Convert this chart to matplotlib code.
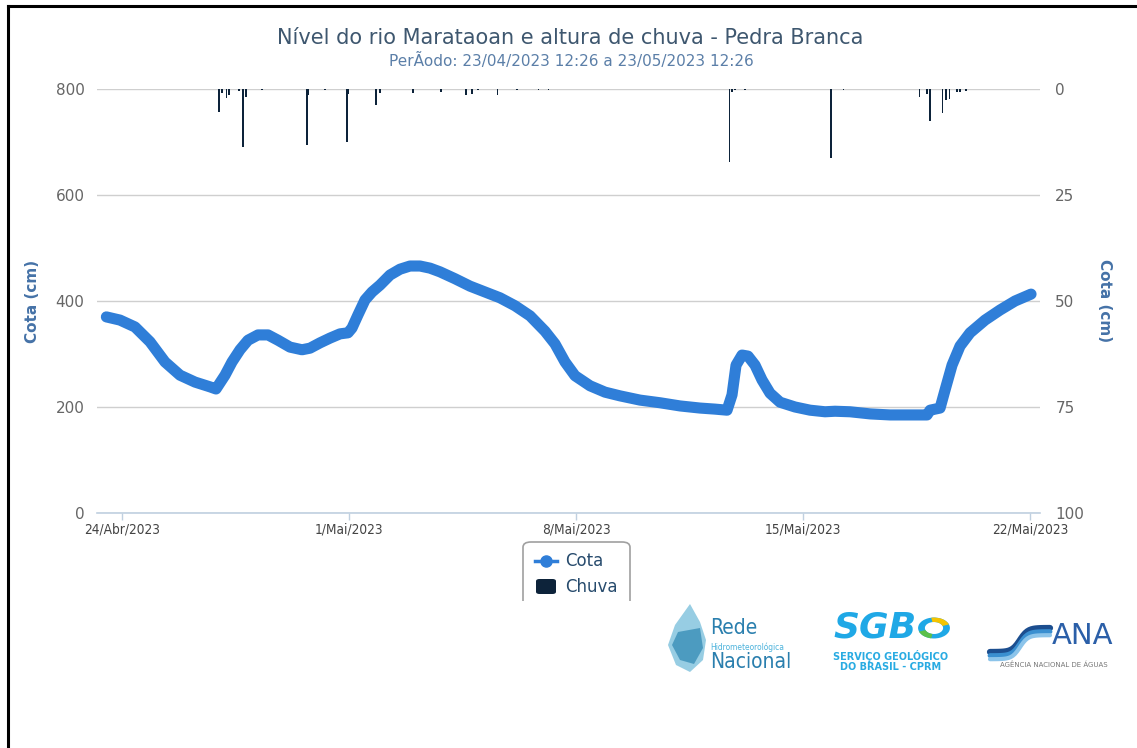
import matplotlib
matplotlib.use("Agg")
import matplotlib.pyplot as plt
import pandas as pd
import numpy as np
from matplotlib.patches import FancyBboxPatch, Rectangle, Polygon, Wedge
from matplotlib.lines import Line2D

# ---------------- data ----------------
cota_times = [
    "2023-04-23 12:26", "2023-04-23 22:30", "2023-04-24 09:37", "2023-04-24 20:43",
    "2023-04-25 07:49", "2023-04-25 18:56", "2023-04-26 06:02", "2023-04-26 17:08",
    "2023-04-26 21:34", "2023-04-27 04:14", "2023-04-27 09:25", "2023-04-27 15:20",
    "2023-04-27 21:15", "2023-04-28 04:39", "2023-04-28 12:03", "2023-04-28 19:27",
    "2023-04-29 04:19", "2023-04-29 13:12", "2023-04-29 19:08", "2023-04-30 02:31",
    "2023-04-30 09:56", "2023-04-30 17:20", "2023-04-30 23:15", "2023-05-01 02:12",
    "2023-05-01 06:39", "2023-05-01 11:50", "2023-05-01 17:01", "2023-05-01 22:56",
    "2023-05-02 06:20", "2023-05-02 13:44", "2023-05-02 21:08", "2023-05-03 04:32",
    "2023-05-03 11:56", "2023-05-03 19:20", "2023-05-04 06:26", "2023-05-04 17:33",
    "2023-05-05 04:38", "2023-05-05 15:44", "2023-05-06 02:50", "2023-05-06 13:57",
    "2023-05-07 01:02", "2023-05-07 08:27", "2023-05-07 15:50", "2023-05-07 23:14",
    "2023-05-08 10:21", "2023-05-08 21:27", "2023-05-09 08:33", "2023-05-09 23:21",
    "2023-05-10 14:10", "2023-05-11 04:57", "2023-05-11 19:45", "2023-05-12 06:52",
    "2023-05-12 15:45", "2023-05-12 19:26", "2023-05-12 22:24", "2023-05-13 02:50",
    "2023-05-13 07:16", "2023-05-13 12:27", "2023-05-13 17:38", "2023-05-13 23:34",
    "2023-05-14 06:58", "2023-05-14 18:04", "2023-05-15 05:10", "2023-05-15 16:16",
    "2023-05-15 23:40", "2023-05-16 10:47", "2023-05-17 01:34", "2023-05-17 16:22",
    "2023-05-18 07:11", "2023-05-18 19:45", "2023-05-18 21:59", "2023-05-19 05:23",
    "2023-05-19 09:04", "2023-05-19 14:15", "2023-05-19 20:10", "2023-05-20 03:35",
    "2023-05-20 14:40", "2023-05-21 01:46", "2023-05-21 12:52", "2023-05-22 00:43",
]
cota_values = [
    370, 364, 351, 323, 285, 260, 247, 238,
    234, 260, 285, 308, 326, 336, 336, 326,
    313, 308, 311, 321, 330, 338, 340, 349,
    374, 402, 417, 430, 449, 460, 466, 466,
    462, 455, 442, 428, 417, 406, 391, 372,
    343, 319, 285, 259, 240, 228, 221, 213,
    208, 202, 198, 196, 194, 223, 279, 298,
    296, 279, 251, 226, 209, 200, 194, 191,
    192, 191, 187, 185, 185, 185, 194, 198,
    232, 279, 315, 340, 364, 383, 400, 413,
]

chuva_times = [
    "2023-04-26 23:47", "2023-04-27 01:47", "2023-04-27 05:28", "2023-04-27 07:11",
    "2023-04-27 14:35", "2023-04-27 17:46", "2023-04-27 19:46", "2023-04-28 07:23",
    "2023-04-29 16:41", "2023-04-29 17:38", "2023-04-30 06:14", "2023-04-30 22:18",
    "2023-04-30 23:28", "2023-05-01 19:58", "2023-05-01 22:56", "2023-05-02 23:08",
    "2023-05-03 19:51", "2023-05-04 14:34", "2023-05-04 18:47", "2023-05-04 23:14",
    "2023-05-05 13:45", "2023-05-06 04:32", "2023-05-06 20:05", "2023-05-07 03:29",
    "2023-05-12 17:27", "2023-05-12 19:13", "2023-05-12 21:40", "2023-05-13 05:04",
    "2023-05-15 20:43", "2023-05-16 05:50", "2023-05-18 14:04", "2023-05-18 19:32",
    "2023-05-18 21:59", "2023-05-19 07:05", "2023-05-19 09:36", "2023-05-19 12:15",
    "2023-05-19 17:44", "2023-05-19 20:10", "2023-05-20 00:23",
]
chuva_values = [
    5.4, 1.0, 2.2, 1.5,
    0.5, 13.6, 1.8, 0.3,
    13.2, 1.5, 0.3, 12.6,
    1.2, 3.8, 1.0, 1.0,
    0.6, 1.4, 1.2, 0.3,
    1.4, 0.3, 0.3, 0.3,
    17.3, 0.8, 0.3, 0.3,
    16.3, 0.3, 2.0, 1.2,
    7.5, 5.7, 2.6, 2.4,
    0.8, 0.6, 0.5,
]

x_tick_dates = ["2023-04-24", "2023-05-01", "2023-05-08", "2023-05-15", "2023-05-22"]
x_tick_labels = ["24/Abr/2023", "1/Mai/2023", "8/Mai/2023", "15/Mai/2023", "22/Mai/2023"]
left_ticks = [0, 200, 400, 600, 800]
right_ticks = [0, 25, 50, 75, 100]

title = "Nível do rio Marataoan e altura de chuva - Pedra Branca"
subtitle = "PerÃodo: 23/04/2023 12:26 a 23/05/2023 12:26"

# ---------------- styling ----------------
W, H = 1137, 748
DPI = 100
COTA_COLOR = "#2f7ed8"
CHUVA_COLOR = "#0d233a"
GRID = "#cfcfcf"
AXIS_BLUE = "#c0d0e0"
TICK_TXT = "#666666"
AXTITLE = "#4572a7"

fig = plt.figure(figsize=(W / DPI, H / DPI), dpi=DPI)


def fx(x):
    return np.asarray(x) / W


def fy(y):
    return 1 - np.asarray(y) / H


L, R, T, B = 97, 1040, 89, 513
ax = fig.add_axes([fx(L), fy(B), (R - L) / W, (B - T) / H])
ax2 = ax.twinx()

ct = pd.to_datetime(cota_times)
rt = pd.to_datetime(chuva_times)

ax2.bar(rt, chuva_values, width=0.05, bottom=0, color=CHUVA_COLOR, zorder=2)
ax.plot(ct, cota_values, color=COTA_COLOR, lw=8.0, solid_capstyle="round",
        solid_joinstyle="round", zorder=3)

ax.set_ylim(0, 800)
ax2.set_ylim(100, 0)
x0 = pd.Timestamp("2023-04-23 05:30")
x1 = pd.Timestamp("2023-05-22 07:20")
ax.set_xlim(x0, x1)

ax.set_yticks(left_ticks)
ax2.set_yticks(right_ticks)
ax.set_xticks(pd.to_datetime(x_tick_dates))
ax.set_xticklabels(x_tick_labels)

ax.grid(axis="y", color=GRID, lw=1.0)
ax.set_axisbelow(True)
for a in (ax, ax2):
    for s in a.spines.values():
        s.set_visible(False)
ax.spines["bottom"].set_visible(True)
ax.spines["bottom"].set_color(AXIS_BLUE)
ax.spines["bottom"].set_linewidth(1.2)

ax.tick_params(axis="y", length=0, pad=9, labelsize=11, labelcolor=TICK_TXT)
ax2.tick_params(axis="y", length=0, pad=11, labelsize=11, labelcolor=TICK_TXT)
ax.tick_params(axis="x", length=5, width=1, color=AXIS_BLUE, pad=2,
               labelsize=9.8, labelcolor="#444444")
for lab in ax.get_xticklabels():
    lab.set_fontstretch("condensed")

ax.set_ylabel("Cota (cm)", color=AXTITLE, fontsize=11, fontweight="bold", labelpad=11)
ax2.set_ylabel("Cota (cm)", color=AXTITLE, fontsize=11, fontweight="bold",
               rotation=270, labelpad=20)

# ---------------- titles ----------------
fig.text(fx(570), fy(38), title, ha="center", va="center", fontsize=15,
         color="#3e576f")
fig.text(fx(571), fy(61), subtitle, ha="center", va="center", fontsize=11,
         color="#5b7fa8")

# ---------------- frame ----------------
fig.add_artist(Line2D([fx(8), fx(8)], [fy(6), 0], transform=fig.transFigure,
                      color="black", lw=2.2))
fig.add_artist(Line2D([fx(8), 1], [fy(6), fy(6)], transform=fig.transFigure,
                      color="black", lw=2.2))

# ---------------- legend (clipped at bottom) ----------------
box = FancyBboxPatch((fx(523), fy(620)), (630 - 523) / W, (620 - 542) / H,
                     boxstyle="round,pad=0,rounding_size=0.007",
                     transform=fig.transFigure, facecolor="white",
                     edgecolor="#a0a0a0", lw=1.2)
fig.add_artist(box)
clip = Rectangle((fx(515), fy(601)), (645 - 515) / W, (601 - 535) / H,
                 transform=fig.transFigure, visible=False)
fig.add_artist(clip)
box.set_clip_path(clip)
fig.add_artist(Line2D([fx(535), fx(557)], [fy(561), fy(561)], transform=fig.transFigure,
                      color=COTA_COLOR, lw=2.5))
fig.add_artist(Line2D([fx(546)], [fy(561)], transform=fig.transFigure,
                      color=COTA_COLOR, marker="o", markersize=8, lw=0))
fig.add_artist(FancyBboxPatch((fx(536), fy(594)), (556 - 536) / W, (594 - 579) / H,
                              boxstyle="round,pad=0,rounding_size=0.003",
                              transform=fig.transFigure, facecolor=CHUVA_COLOR,
                              edgecolor="none"))
fig.text(fx(565), fy(561), "Cota", ha="left", va="center", fontsize=12, color="#274b6d")
fig.text(fx(565), fy(587), "Chuva", ha="left", va="center", fontsize=12, color="#274b6d")

# ---------------- logos (approximations) ----------------
drop = Polygon(np.column_stack([fx([690, 700, 706, 703, 690, 676, 668, 675]),
                                fy([604, 622, 640, 660, 672, 665, 645, 625])]),
               closed=True, transform=fig.transFigure, facecolor="#8cc8e0",
               edgecolor="none", alpha=0.9)
fig.add_artist(drop)
inner = Polygon(np.column_stack([fx([678, 700, 703, 694, 680, 672]),
                                 fy([632, 628, 648, 664, 660, 645])]),
                closed=True, transform=fig.transFigure, facecolor="#3a8fb8",
                edgecolor="none", alpha=0.8)
fig.add_artist(inner)
fig.text(fx(710), fy(628), "Rede", ha="left", va="center", fontsize=15,
         color="#2a7fae", fontstretch="condensed")
fig.text(fx(710), fy(647), "Hidrometeorológica", ha="left", va="center", fontsize=6,
         color="#4db3dc", fontstretch="condensed")
fig.text(fx(710), fy(662), "Nacional", ha="left", va="center", fontsize=15,
         color="#2a7fae", fontstretch="condensed")

# SGB
fig.text(fx(833), fy(628), "SGB", ha="left", va="center", fontsize=26,
         fontweight="heavy", color="#1fa8e6", style="italic")
fig.add_artist(Wedge((fx(934), fy(628)), 0.014, 0, 360, width=0.006,
                     transform=fig.transFigure, facecolor="#1fa8e6", edgecolor="none"))
fig.add_artist(Wedge((fx(934), fy(628)), 0.014, 20, 100, width=0.006,
                     transform=fig.transFigure, facecolor="#f5c400", edgecolor="none"))
fig.add_artist(Wedge((fx(934), fy(628)), 0.014, 200, 260, width=0.006,
                     transform=fig.transFigure, facecolor="#5cc04a", edgecolor="none"))
fig.text(fx(891), fy(656), "SERVIÇO GEOLÓGICO", ha="center", va="center", fontsize=7,
         fontweight="bold", color="#29abe2")
fig.text(fx(891), fy(667), "DO BRASIL - CPRM", ha="center", va="center", fontsize=7,
         fontweight="bold", color="#29abe2")

# ANA
wave_x = np.linspace(990, 1050, 30)
for off, col, lw in [(0, "#1c4e8f", 4.5), (6, "#3a8fd0", 3.5), (12, "#8cc4ea", 3)]:
    wy = 640 - off * 0.4 - 12 * np.tanh((wave_x - 1020) / 8)
    fig.add_artist(Line2D(fx(wave_x), fy(wy + off), transform=fig.transFigure,
                          color=col, lw=lw, solid_capstyle="round"))
fig.text(fx(1052), fy(636), "ANA", ha="left", va="center", fontsize=21,
         color="#2b5fa8")
fig.text(fx(1054), fy(665), "AGÊNCIA NACIONAL DE ÁGUAS", ha="center", va="center",
         fontsize=5, color="#777777")

fig.savefig("out.png", dpi=DPI)
